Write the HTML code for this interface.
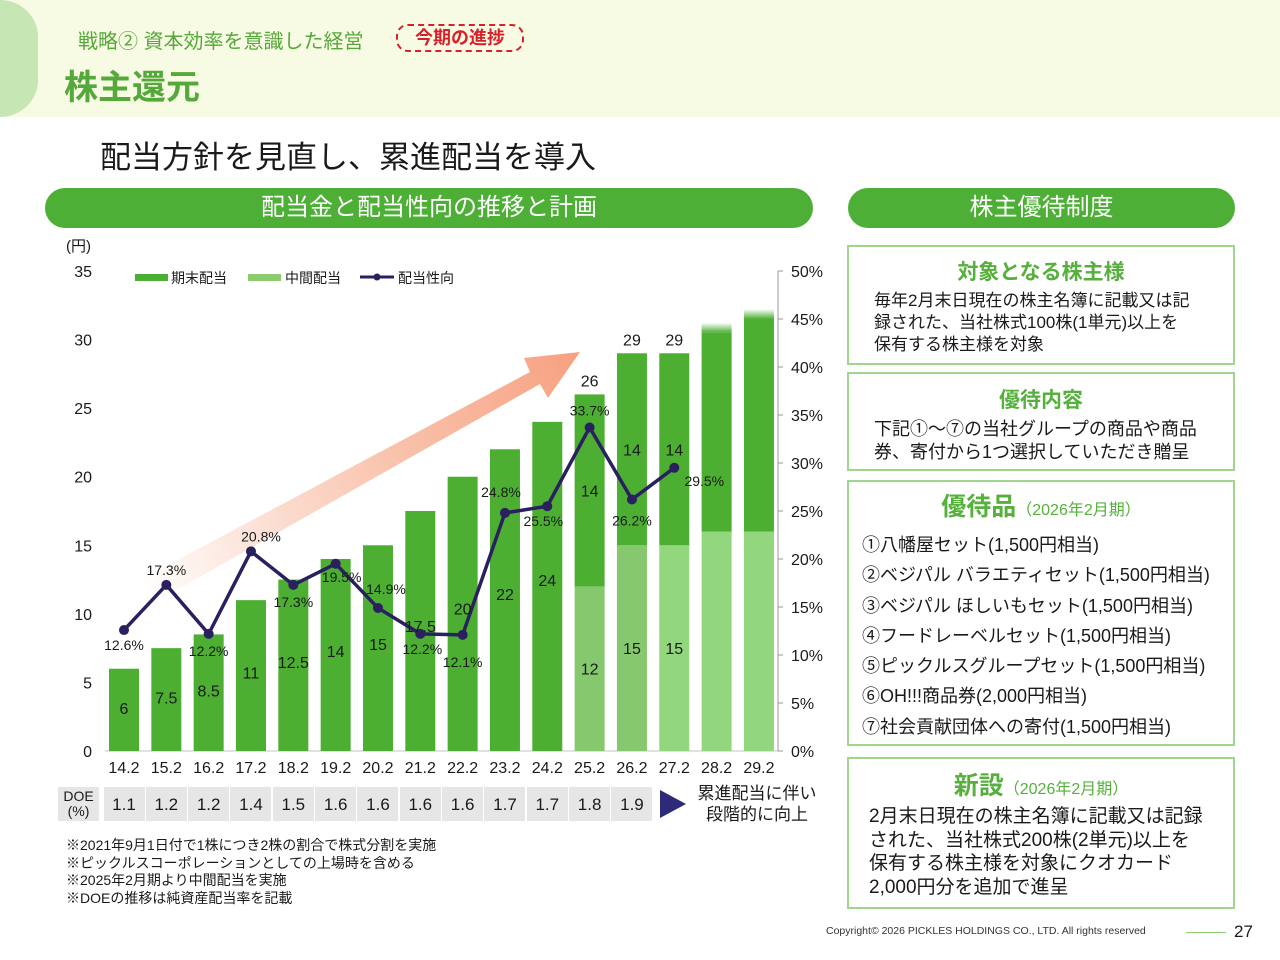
<!DOCTYPE html>
<html><head><meta charset="utf-8">
<style>
*{margin:0;padding:0;box-sizing:border-box}
body{width:1280px;height:960px;position:relative;background:#fff;font-family:"Liberation Sans","Noto Sans CJK JP",sans-serif;color:#1a1a1a;overflow:hidden}
.a{position:absolute;white-space:nowrap}
.box{position:absolute;border:2px solid #9fd58c;background:#fff}
.pill{position:absolute;background:#4daf35;border-radius:20px;color:#fff;font-size:24px;text-align:center;line-height:40px}
.g{color:#55b13b;font-weight:bold}
</style></head><body>
<div class="a" style="left:0;top:0;width:1280px;height:117px;background:#f8fbe3"></div>
<div class="a" style="left:0;top:0;width:38px;height:117px;border-radius:0 60px 60px 0 / 0 58px 58px 0;background:#c6e6b3"></div>
<div class="a" style="left:78px;top:25px;font-size:20px;color:#55a83a">戦略② 資本効率を意識した経営</div>
<div class="a" style="left:396px;top:24px;width:128px;height:28px;border:2px dashed #d6202a;border-radius:12px;color:#d6202a;font-size:18px;font-weight:bold;text-align:center;line-height:24px">今期の進捗</div>
<div class="a" style="left:64px;top:60px;font-size:34px;font-weight:bold;color:#55a83a">株主還元</div>
<div class="a" style="left:100px;top:132px;font-size:31px">配当方針を見直し、累進配当を導入</div>
<div class="pill" style="left:45px;top:188px;width:768px">配当金と配当性向の推移と計画</div>
<div class="pill" style="left:848px;top:188px;width:387px">株主優待制度</div>

<svg class="a" style="left:0;top:230px" width="840" height="560" viewBox="0 230 840 560" id="chart">
<defs>
<linearGradient id="ag" x1="140" y1="590" x2="580" y2="355" gradientUnits="userSpaceOnUse">
<stop offset="0" stop-color="#f6a888" stop-opacity="0"/><stop offset="0.6" stop-color="#f7b194" stop-opacity="0.8"/><stop offset="1" stop-color="#f7a080"/></linearGradient>
<linearGradient id="fade28" x1="0" y1="0" x2="0" y2="1"><stop offset="0" stop-color="#4caf32" stop-opacity="0"/><stop offset="1" stop-color="#4caf32"/></linearGradient>
</defs>
<g id="arrow"><polygon points="140,580 530,372 524,358 580,352 548,398 540,384 152,604" fill="url(#ag)"/></g>
<g id="axes"></g><g id="bars"></g><g id="line"></g><g id="labels"></g>
</svg>

<div class="a" style="left:0;top:0" id="doe"></div>
<div class="a" style="left:660px;top:790px;width:0;height:0;border-top:14px solid transparent;border-bottom:14px solid transparent;border-left:26px solid #2e2a7a"></div>
<div class="a" style="left:690px;top:783px;width:134px;text-align:center;font-size:17px;line-height:21px;white-space:normal">累進配当に伴い<br>段階的に向上</div>
<div class="a" style="left:66px;top:837px;font-size:14px;line-height:17.5px">※2021年9月1日付で1株につき2株の割合で株式分割を実施<br>※ピックルスコーポレーションとしての上場時を含める<br>※2025年2月期より中間配当を実施<br>※DOEの推移は純資産配当率を記載</div>

<div class="box" style="left:847px;top:245px;width:388px;height:120px"></div>
<div class="a g" style="left:847px;top:256px;width:388px;text-align:center;font-size:21px">対象となる株主様</div>
<div class="a" style="left:874px;top:290px;font-size:17px;line-height:22px">毎年2月末日現在の株主名簿に記載又は記<br>録された、当社株式100株(1単元)以上を<br>保有する株主様を対象</div>

<div class="box" style="left:847px;top:372px;width:388px;height:99px"></div>
<div class="a g" style="left:847px;top:384px;width:388px;text-align:center;font-size:21px">優待内容</div>
<div class="a" style="left:874px;top:418px;font-size:18px;line-height:23px">下記①～⑦の当社グループの商品や商品<br>券、寄付から1つ選択していただき贈呈</div>

<div class="box" style="left:847px;top:480px;width:388px;height:266px"></div>
<div class="a" style="left:847px;top:487px;width:388px;text-align:center"><span class="g" style="font-size:25px">優待品</span><span style="color:#55b13b;font-size:16px">（2026年2月期）</span></div>
<div class="a" style="left:862px;top:530px;font-size:18px;line-height:30.3px">①八幡屋セット(1,500円相当)<br>②ベジパル バラエティセット(1,500円相当)<br>③ベジパル ほしいもセット(1,500円相当)<br>④フードレーベルセット(1,500円相当)<br>⑤ピックルスグループセット(1,500円相当)<br>⑥OH!!!商品券(2,000円相当)<br>⑦社会貢献団体への寄付(1,500円相当)</div>

<div class="box" style="left:847px;top:757px;width:388px;height:152px"></div>
<div class="a" style="left:847px;top:766px;width:388px;text-align:center"><span class="g" style="font-size:25px">新設</span><span style="color:#55b13b;font-size:16px">（2026年2月期）</span></div>
<div class="a" style="left:869px;top:805px;font-size:19px;line-height:23.5px">2月末日現在の株主名簿に記載又は記録<br>された、当社株式200株(2単元)以上を<br>保有する株主様を対象にクオカード<br>2,000円分を追加で進呈</div>

<div class="a" style="left:826px;top:925px;font-size:10.5px;color:#333">Copyright© 2026 PICKLES HOLDINGS CO., LTD. All rights reserved</div>
<div class="a" style="left:1186px;top:932px;width:40px;height:1px;background:#8fcf7a"></div>
<div class="a" style="left:1234px;top:922px;font-size:17px">27</div>

<script>
const categories=["14.2","15.2","16.2","17.2","18.2","19.2","20.2","21.2","22.2","23.2","24.2","25.2","26.2","27.2","28.2","29.2"];
const finalDiv=[6,7.5,8.5,11,12.5,14,15,17.5,20,22,24,14,14,14,14.5,15.5];
const interimDiv=[0,0,0,0,0,0,0,0,0,0,0,12,15,15,16,16];
const payout=[12.6,17.3,12.2,20.8,17.3,19.5,14.9,12.2,12.1,24.8,25.5,33.7,26.2,29.5];
const leftTicks=[0,5,10,15,20,25,30,35];
const rightTicks=[0,5,10,15,20,25,30,35,40,45,50];
const doeValues=["1.1","1.2","1.2","1.4","1.5","1.6","1.6","1.6","1.6","1.7","1.7","1.8","1.9"];
const NS="http://www.w3.org/2000/svg";
const X=i=>124+i*42.33, Y=v=>751-v*480/35, P=v=>751-v*9.6, BW=30;
function mk(t,a,p){const e=document.createElementNS(NS,t);for(const k in a)e.setAttribute(k,a[k]);p.appendChild(e);return e;}
function tx(s,x,y,p,size,anchor){const e=mk('text',{x:x,y:y,'font-size':size||15,'text-anchor':anchor||'middle',fill:'#1a1a1a','font-family':'Liberation Sans, Noto Sans CJK JP, sans-serif'},p);e.textContent=s;return e;}
const ax=document.getElementById('axes'),bg=document.getElementById('bars'),lg=document.getElementById('line'),lb=document.getElementById('labels');
mk('line',{x1:105,y1:751,x2:778,y2:751,stroke:'#d9d9d9','stroke-width':1.5},ax);
mk('line',{x1:778,y1:271,x2:778,y2:751,stroke:'#999','stroke-width':1},ax);
leftTicks.forEach(v=>{const t=tx(String(v),92,Y(v)+6,ax,16,'end');

});
rightTicks.forEach(v=>{mk('line',{x1:778,y1:P(v),x2:783,y2:P(v),stroke:'#999'},ax);const t=tx(v+'%',791,P(v)+6,ax,16,'start');

});
tx('(円)',66,251,ax,15,'start');
categories.forEach((c,i)=>{const t=tx(c,X(i),773,ax,16);

});
mk('rect',{x:135,y:274,width:33,height:7,fill:'#4caf32'},ax);tx('期末配当',171,283,ax,14,'start');
mk('rect',{x:248,y:274,width:33,height:7,fill:'#8ccc6f'},ax);tx('中間配当',285,283,ax,14,'start');
mk('line',{x1:360,y1:277,x2:394,y2:277,stroke:'#2a2060','stroke-width':3},ax);mk('circle',{cx:377,cy:277,r:3.5,fill:'#2a2060'},ax);tx('配当性向',398,283,ax,14,'start');
categories.forEach((c,i)=>{
  const x=X(i)-BW/2,iv=interimDiv[i],fv=finalDiv[i],fut=i>=14;
  if(iv>0){const r=mk('rect',{x:x,y:Y(iv),width:BW,height:Y(0)-Y(iv),fill:fut||i==13?'#92d77d':'#86c86e'},bg);
    
    }
  const r=mk('rect',{x:x,y:Y(iv+fv),width:BW,height:Y(iv)-Y(iv+fv),fill:'#4caf32'},bg);
  
  
  if(fut){mk('rect',{x:x,y:Y(iv+fv)-10,width:BW,height:10,fill:'url(#fade28)'},bg);return;}
  if(iv>0){tx(String(iv),X(i),Y(iv/2)+6,lb,16);tx(String(fv),X(i),Y(iv+fv/2)+6,lb,16);tx(String(iv+fv),X(i),Y(iv+fv)-8,lb,16);}
  else tx(String(fv),X(i),Y(fv*0.52)+6,lb,16);
});
let d='';payout.forEach((p,i)=>{d+=(i?'L':'M')+X(i)+','+P(p);});
const pl=mk('path',{d:d,fill:'none',stroke:'#2a2060','stroke-width':3.5,'stroke-linejoin':'round'},lg);


const off=[[0,20],[0,-10],[0,22],[10,-10],[0,22],[6,18],[8,-14],[2,20],[0,32],[-4,-16],[-4,20],[0,-12],[0,26],[30,18]];
payout.forEach((p,i)=>{const c=mk('circle',{cx:X(i),cy:P(p),r:5,fill:'#2a2060'},lg);
  
  
  tx(p.toFixed(1)+'%',X(i)+off[i][0],P(p)+off[i][1],lb,14);});
const doe=document.getElementById('doe');
function cell(l,w,html,size,name){const e=document.createElement('div');e.className='a';e.style.cssText=`left:${l}px;top:787px;width:${w}px;height:34px;background:#e6e6e6;text-align:center;font-size:${size}px;display:flex;align-items:center;justify-content:center;line-height:15px`;e.innerHTML=html;


doe.appendChild(e);}
cell(58,41,'DOE<br>(%)',14,'doe-label');
doeValues.forEach((v,i)=>cell(X(i)-21+0.5,41,v,17,'doe-cell'));
</script>
</body></html>
